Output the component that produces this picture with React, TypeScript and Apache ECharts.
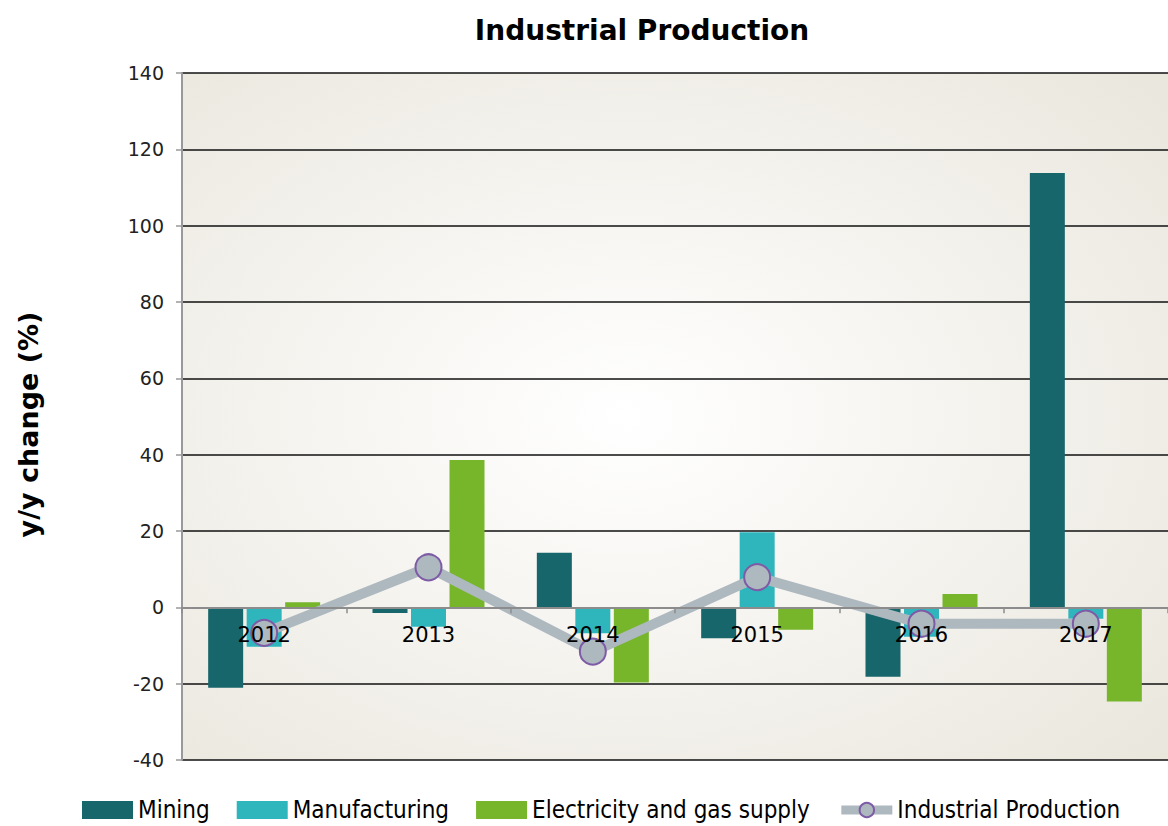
import React, { useEffect, useRef } from "react";
import * as echarts from "echarts";

const years = ["2012", "2013", "2014", "2015", "2016", "2017"];
const mining = [-21.1, -1.5, 14.3, -8.1, -18.2, 113.8];
const manufacturing = [-10.3, -5.1, -6.8, 19.7, -7.7, -3.0];
const electricity = [1.3, 38.6, -19.7, -5.9, 3.5, -24.7];
const industrial = [-6.7, 10.5, -11.6, 7.9, -4.3, -4.3];

const TICK_FONT = "'DejaVu Sans', Verdana, sans-serif";
const LEGEND_FONT = "'Liberation Sans Narrow', 'DejaVu Sans Condensed', 'Noto Sans', sans-serif";

const Y_MIN = -40;
const Y_MAX = 140;
const GRID_TOP = 73;
const GRID_H = 687;

export default function App() {
  const ref = useRef<HTMLDivElement>(null);
  useEffect(() => {
    document.body.style.margin = "0";
    const chart = echarts.init(ref.current!, undefined, { renderer: "svg" });
    const zeroOffset = -(GRID_H * (0 - Y_MIN)) / (Y_MAX - Y_MIN);
    chart.setOption({
      animation: false,
      backgroundColor: "#ffffff",
      title: {
        text: "Industrial Production",
        left: 637,
        top: 11,
        textAlign: "center",
        textStyle: {
          fontFamily: "'DejaVu Sans', Verdana, sans-serif",
          fontWeight: "bold",
          fontSize: 28,
          color: "#000",
        },
      },
      grid: {
        left: 182,
        top: GRID_TOP,
        width: 990,
        height: GRID_H,
        show: true,
        borderWidth: 0,
        backgroundColor: new echarts.graphic.RadialGradient(0.45, 0.5, 0.75, [
          { offset: 0, color: "#ffffff" },
          { offset: 1, color: "#e9e6dc" },
        ]),
      },
      legend: {
        bottom: 4,
        left: 82,
        padding: 0,
        itemWidth: 51,
        itemHeight: 18,
        itemGap: 27,
        textStyle: { fontFamily: LEGEND_FONT, fontSize: 24, color: "#000" },
        data: [
          { name: "Mining", icon: "rect" },
          { name: "Manufacturing", icon: "rect" },
          { name: "Electricity and gas supply", icon: "rect" },
          {
            name: "Industrial Production",
            lineStyle: { width: 9, color: "#aeb8bf" },
          },
        ],
      },
      xAxis: {
        type: "category",
        data: years,
        z: 10,
        offset: zeroOffset,
        axisLine: { onZero: false, lineStyle: { color: "#8c8c8c", width: 2 } },
        axisTick: { show: true, length: 6, lineStyle: { color: "#8c8c8c", width: 1.5 } },
        axisLabel: { fontFamily: TICK_FONT, fontSize: 21, color: "#000", margin: 17 },
      },
      yAxis: {
        type: "value",
        min: Y_MIN,
        max: Y_MAX,
        interval: 20,
        name: "y/y change (%)",
        nameLocation: "middle",
        nameGap: 140,
        nameTextStyle: {
          fontFamily: "'DejaVu Sans', Verdana, sans-serif",
          fontWeight: "bold",
          fontSize: 27,
          color: "#000",
          padding: [0, 16, 0, 0],
        },
        axisLine: { show: true, lineStyle: { color: "#999999", width: 2 } },
        axisTick: { show: true, length: 6, lineStyle: { color: "#999999", width: 1.5 } },
        axisLabel: { fontFamily: TICK_FONT, fontSize: 19, color: "#222", margin: 18 },
        splitLine: { show: true, lineStyle: { color: "#111", width: 1.5 } },
      },
      series: [
        {
          name: "Mining",
          type: "bar",
          data: mining,
          barWidth: 35,
          barGap: "10%",
          itemStyle: { color: "#17666b" },
        },
        {
          name: "Manufacturing",
          type: "bar",
          data: manufacturing,
          barWidth: 35,
          barGap: "10%",
          itemStyle: { color: "#2fb6bd" },
        },
        {
          name: "Electricity and gas supply",
          type: "bar",
          data: electricity,
          barWidth: 35,
          barGap: "10%",
          itemStyle: { color: "#77b52b" },
        },
        {
          name: "Industrial Production",
          type: "line",
          data: industrial,
          z: 5,
          symbol: "circle",
          symbolSize: 26,
          lineStyle: { color: "#aeb8bf", width: 10 },
          itemStyle: { color: "#aeb8bf", borderColor: "#7d5ba6", borderWidth: 2 },
        },
      ],
    });
    return () => chart.dispose();
  }, []);
  return <div ref={ref} style={{ width: 1168, height: 826 }} />;
}
